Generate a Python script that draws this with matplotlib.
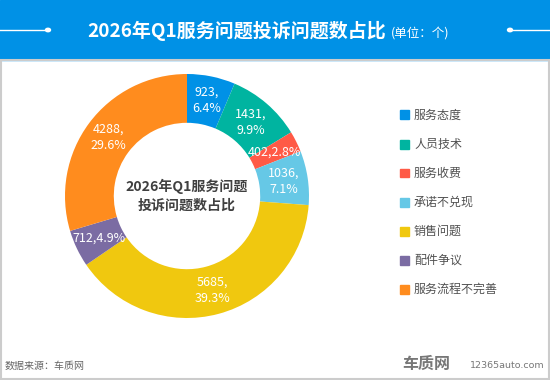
import numpy as np
import matplotlib
matplotlib.use("Agg")
import matplotlib.pyplot as plt
from matplotlib.patches import Rectangle, Circle

plt.rcParams['font.family'] = ['Noto Sans CJK SC', 'DejaVu Sans']

# data
categories = ['服务态度', '人员技术', '服务收费', '承诺不兑现', '销售问题', '配件争议', '服务流程不完善']
values = [923, 1431, 402, 1036, 5685, 712, 4288]
pcts = ['6.4%', '9.9%', '2.8%', '7.1%', '39.3%', '4.9%', '29.6%']
colors = ['#0091e6', '#00b4a0', '#ff5a46', '#66c8e6', '#f0c80f', '#7b6ca3', '#ff8c1e']
one_line = [False, False, True, False, False, True, False]

W, H = 550, 380
fig = plt.figure(figsize=(W / 100, H / 100), dpi=100)

def px(x, y):
    return x / W, 1 - y / H

def fs(p):  # pixel font size -> points
    return p * 72 / 100

# header band
fig.patches.append(Rectangle((0, 1 - 60 / H), 1, 60 / H, transform=fig.transFigure,
                             color='#0091e6', zorder=0))
fig.lines.append(plt.Line2D([0, 48 / W], [1 - 30 / H] * 2, transform=fig.transFigure,
                            color='white', lw=1))
fig.lines.append(plt.Line2D([510 / W, 1], [1 - 30 / H] * 2, transform=fig.transFigure,
                            color='white', lw=1))
for cx in (48, 510):
    fig.patches.append(Circle(px(cx, 30), 2.5 / W, transform=fig.transFigure,
                              color='white'))
fig.text(*px(237, 31), '2026年Q1服务问题投诉问题数占比', color='white',
         fontsize=fs(19), fontweight='bold', ha='center', va='center')
fig.text(*px(391, 33), '(单位：个)', color='white', fontsize=fs(12.5),
         ha='left', va='center')

# border
fig.patches.append(Rectangle((0.5 / W, 1.5 / H), (W - 2) / W, (H - 61.5) / H,
                             transform=fig.transFigure, fill=False,
                             edgecolor='#cccccc', lw=1.5))

# donut
cx, cy, R = 187, 196, 122
ax = fig.add_axes([(cx - R) / W, (H - cy - R) / H, 2 * R / W, 2 * R / H])
wedges, _ = ax.pie(values, colors=colors, startangle=90, counterclock=False,
                   radius=1, wedgeprops=dict(width=0.4, linewidth=0))
ax.set_xlim(-1, 1)
ax.set_ylim(-1, 1)
ax.axis('off')

for w, v, p, single in zip(wedges, values, pcts, one_line):
    ang = np.deg2rad((w.theta1 + w.theta2) / 2)
    x, y = 0.8 * np.cos(ang), 0.8 * np.sin(ang)
    txt = f'{v},{p}' if single else f'{v},\n{p}'
    ax.text(x, y, txt, color='white', fontsize=fs(12.5), ha='center', va='center',
            linespacing=1.35)

ax.text(0, 0, '2026年Q1服务问题\n投诉问题数占比', color='#404040', fontsize=fs(14),
        fontweight='bold', ha='center', va='center', linespacing=1.45)

# legend
leg_y = [115, 144, 173, 202, 231, 260, 289]
for name, c, ly in zip(categories, colors, leg_y):
    fig.patches.append(Rectangle(px(400, ly + 4.5), 9 / W, 9 / H,
                                 transform=fig.transFigure, color=c))
    fig.text(*px(414, ly), name, color='#505050', fontsize=fs(12),
             ha='left', va='center')

# footer
fig.text(*px(5, 366), '数据来源：车质网', color='#666666', fontsize=fs(10),
         ha='left', va='center')
fig.text(*px(402, 364), '车质网', color='#777777', fontsize=fs(16),
         fontweight='bold', ha='left', va='center')
fig.text(*px(545, 366), '12365auto.com', color='#777777', fontsize=fs(9.5),
         ha='right', va='center', family='DejaVu Sans')

fig.savefig('out.png', dpi=100)
